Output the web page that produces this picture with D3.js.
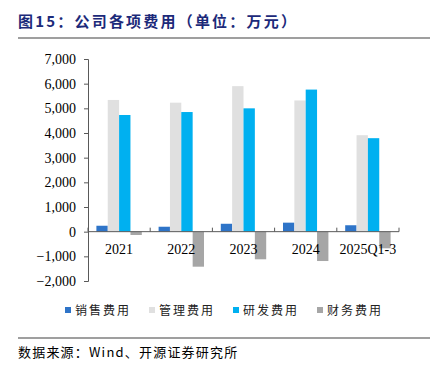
<!DOCTYPE html>
<html><head><meta charset="utf-8">
<script src="https://cdn.jsdelivr.net/npm/d3@7"></script>
<style>
body{margin:0;background:#fff;}
svg{display:block;}
</style></head>
<body>
<svg id="c" width="438" height="366"></svg>
<script>
const categories = ["2021","2022","2023","2024","2025Q1-3"];
const seriesNames = ["销售费用","管理费用","研发费用","财务费用"];
const sales   = [240, 200, 320, 365, 260];
const admin   = [5340, 5230, 5900, 5320, 3910];
const rnd     = [4730, 4850, 5000, 5760, 3790];
const finance = [-135, -1420, -1120, -1190, -675];
const yTicks  = [-2000,-1000,0,1000,2000,3000,4000,5000,6000,7000];
const colors  = ["#2E74C8","#E0E0E0","#00B0F0","#A6A6A6"];

const series = [sales, admin, rnd, finance];
const svg = d3.select("#c");

// title
svg.append("text").attr("x",18).attr("y",27)
  .attr("font-family","'Noto Sans CJK SC'").attr("font-weight","bold")
  .attr("font-size",15).attr("letter-spacing",2.2).attr("fill","#1C2A7A").text("图15：公司各项费用（单位：万元）");
svg.append("line").attr("x1",18).attr("x2",430).attr("y1",38).attr("y2",38)
  .attr("stroke","#7f7f7f").attr("stroke-width",1.5);

const y = d3.scaleLinear().domain([-2000,7000]).range([281,59]);
const x0 = d3.scaleBand().domain(categories).range([88,399]).paddingInner(0.27).paddingOuter(0.135);
const x1 = d3.scaleBand().domain(seriesNames).range([0,x0.bandwidth()]);

// bars
const g = svg.append("g");
categories.forEach((c,i)=>{
  series.forEach((s,j)=>{
    const v = s[i];
    g.append("rect")
      .attr("x", x0(c)+x1(seriesNames[j]))
      .attr("width", x1.bandwidth())
      .attr("y", y(Math.max(0,v)))
      .attr("height", Math.abs(y(v)-y(0)))
      .attr("fill", colors[j]);
  });
});

// y axis
const yAxis = d3.axisLeft(y).tickValues(yTicks).tickSize(4).tickFormat(d3.format(",")).tickPadding(8);
const ya = svg.append("g").attr("transform","translate(88,0)").call(yAxis);
ya.select(".domain").attr("stroke","#595959");
ya.selectAll(".tick line").attr("stroke","#595959");
ya.selectAll("text").attr("font-family","'Liberation Serif'").attr("font-size",14).attr("fill","#000");

// x axis (zero line) with upward ticks at band boundaries
const xa = svg.append("g");
xa.append("line").attr("x1",88).attr("x2",399).attr("y1",y(0)).attr("y2",y(0)).attr("stroke","#595959");
const step = (399-88)/categories.length;
d3.range(categories.length+1).forEach(k=>{
  const xx = 88 + k*step;
  xa.append("line").attr("x1",xx).attr("x2",xx).attr("y1",y(0)).attr("y2",y(0)-4).attr("stroke","#595959");
});
categories.forEach(c=>{
  xa.append("text").attr("x",x0(c)+x0.bandwidth()/2).attr("y",254)
    .attr("text-anchor","middle").attr("font-family","'Liberation Serif'").attr("font-size",14)
    .attr("fill","#000").text(c);
});

// legend
const legX = [65,149,233,317];
seriesNames.forEach((n,j)=>{
  svg.append("rect").attr("x",legX[j]).attr("y",307).attr("width",6).attr("height",6).attr("fill",colors[j]);
  svg.append("text").attr("x",legX[j]+10).attr("y",315).attr("font-family","'Noto Sans CJK SC'")
    .attr("font-size",12).attr("letter-spacing",2).attr("fill","#222").text(n);
});

// source
svg.append("line").attr("x1",18).attr("x2",430).attr("y1",338).attr("y2",338)
  .attr("stroke","#7f7f7f").attr("stroke-width",1.5);
svg.append("text").attr("x",18).attr("y",357).attr("font-family","'Noto Sans CJK SC'")
  .attr("font-size",13).attr("letter-spacing",1.2).attr("fill","#000").text("数据来源：Wind、开源证券研究所");
</script>
</body></html>
